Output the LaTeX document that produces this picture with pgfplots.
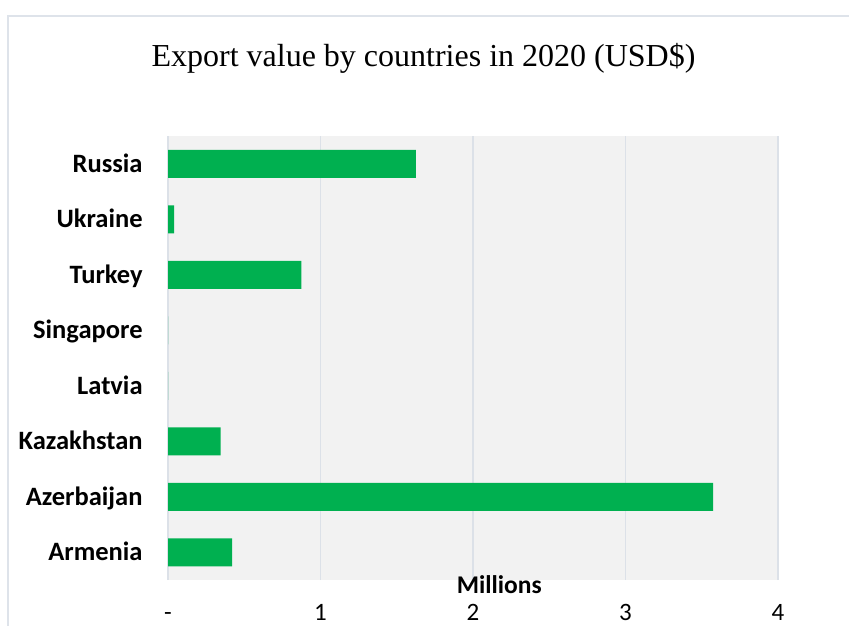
\documentclass[border=0pt]{standalone}
\usepackage{pgfplots}
\pgfplotsset{compat=1.18}
\usepackage{fontspec}
\newfontfamily\carlito{Carlito}
\newfontfamily\tnr{Liberation Serif}
\definecolor{barg}{HTML}{00B050}
\definecolor{plotbg}{HTML}{F2F2F2}
\definecolor{gridc}{HTML}{DCE1E8}
\definecolor{framec}{HTML}{DEE3EA}
\begin{document}
\begin{tikzpicture}
\useasboundingbox (0,0) rectangle (849bp,626bp);
\draw[framec, line width=1.5bp] (8bp,0) -- (8bp,610bp) -- (849bp,610bp);
\node[font=\tnr\fontsize{32bp}{36bp}\selectfont, anchor=base] at (423.5bp,559.5bp) {Export value by countries in 2020 (USD\$)};
\begin{axis}[
  at={(168bp,46bp)}, anchor=south west,
  scale only axis, width=610bp, height=444bp,
  xbar, bar width=28bp,
  xmin=0, xmax=4, ymin=-0.5, ymax=7.5,
  axis background/.style={fill=plotbg},
  axis line style={draw=none},
  tick style={draw=none},
  xmajorgrids, grid style={gridc, line width=1.2bp},
  xtick={0,1,2,3,4}, xticklabels={-,1,2,3,4},
  ytick={0,...,7},
  yticklabels={Armenia,Azerbaijan,Kazakhstan,Latvia,Singapore,Turkey,Ukraine,Russia},
  xticklabel style={font=\carlito\fontsize{25bp}{30bp}\selectfont, anchor=center, yshift=-32bp, inner sep=0pt, text height=16bp, text depth=0pt},
  yticklabel style={font=\carlito\bfseries\fontsize{26.5bp}{30bp}\selectfont, anchor=east, inner sep=0pt, xshift=-21bp, text height=17bp, text depth=0pt},
  xlabel={Millions},
  xlabel style={font=\carlito\bfseries\fontsize{25.5bp}{30bp}\selectfont, at={(axis description cs:0.543,0)}, anchor=center, yshift=-5bp, inner sep=0pt, text height=16bp, text depth=0pt},
]
\addplot[fill=barg, draw=none] coordinates {
 (0.42,0) (3.575,1) (0.345,2) (0,3) (0,4) (0.875,5) (0.04,6) (1.625,7)
};
\end{axis}
\end{tikzpicture}
\end{document}
